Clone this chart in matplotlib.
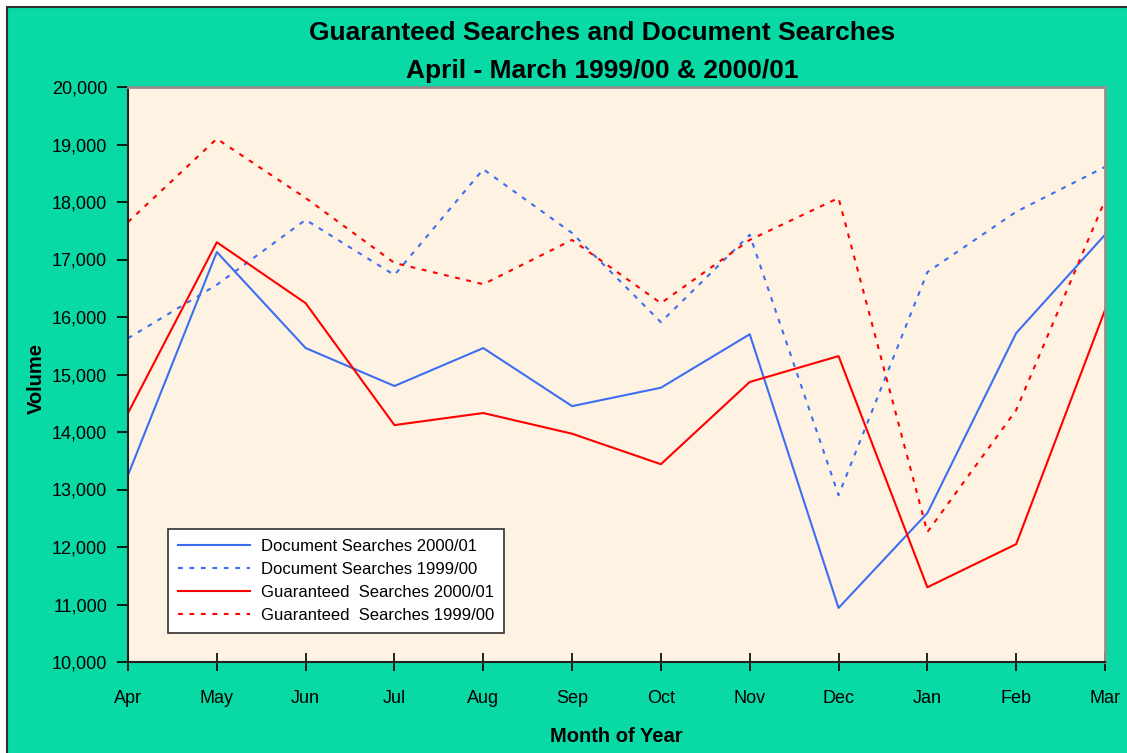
import matplotlib
matplotlib.use("Agg")
import matplotlib.pyplot as plt
from matplotlib.patches import Rectangle
from matplotlib.ticker import FuncFormatter

months = ['Apr', 'May', 'Jun', 'Jul', 'Aug', 'Sep', 'Oct', 'Nov', 'Dec', 'Jan', 'Feb', 'Mar']
doc_2000 = [13250, 17130, 15460, 14800, 15460, 14450, 14770, 15700, 10940, 12590, 15720, 17430]
doc_1999 = [15630, 16560, 17690, 16730, 18570, 17460, 15910, 17430, 12900, 16780, 17830, 18610]
guar_2000 = [14330, 17300, 16240, 14120, 14330, 13970, 13440, 14870, 15320, 11300, 12050, 16120]
guar_1999 = [17650, 19100, 18070, 16940, 16570, 17340, 16240, 17340, 18070, 12260, 14380, 18030]
labels = ['Document Searches 2000/01', 'Document Searches 1999/00',
          'Guaranteed  Searches 2000/01', 'Guaranteed  Searches 1999/00']
yticks = list(range(10000, 20001, 1000))

FAM = ['Liberation Sans', 'DejaVu Sans']

TEAL = '#08D9A5'
CREAM = '#FEF3E2'
BLUE = '#3D6EF2'
RED = '#FF0000'

fig = plt.figure(figsize=(11.27, 7.53), dpi=100, facecolor='white')
fig.patches.append(Rectangle((7 / 1127, -0.1), 1.2, 1.1 - 7 / 753,
                             transform=fig.transFigure, facecolor=TEAL,
                             edgecolor='#303030', lw=1.5, zorder=-10))

ax = fig.add_axes([128 / 1127, 1 - 662 / 753, (1105 - 128) / 1127, (662 - 87) / 753])
ax.set_facecolor(CREAM)

x = list(range(len(months)))
lw = 1.5
ax.plot(x, doc_2000, color=BLUE, lw=lw, label=labels[0])
ax.plot(x, doc_1999, color=BLUE, lw=lw, ls=(0, (2.3, 3.2)), label=labels[1])
ax.plot(x, guar_2000, color=RED, lw=lw, label=labels[2])
ax.plot(x, guar_1999, color=RED, lw=lw, ls=(0, (2.3, 3.2)), label=labels[3])

ax.set_xlim(0, len(months) - 1)
ax.set_ylim(10000, 20000)
ax.set_xticks(x)
ax.set_xticklabels(months, family=FAM, fontsize=13)
ax.set_yticks(yticks)
ax.yaxis.set_major_formatter(FuncFormatter(lambda v, p: f'{int(v):,}'))
for lab in ax.get_yticklabels():
    lab.set_family(FAM)
    lab.set_fontsize(13)
ax.tick_params(axis='y', direction='out', length=8, width=1.2, pad=7, colors='black')
ax.tick_params(axis='x', direction='inout', length=13, width=1.2, pad=14, colors='black')

for s in ['left', 'bottom']:
    ax.spines[s].set_color('#202020')
    ax.spines[s].set_linewidth(1.5)
for s in ['top', 'right']:
    ax.spines[s].set_color('#909090')
    ax.spines[s].set_linewidth(2)

leg = ax.legend(loc='upper left', bbox_to_anchor=(0.041, 0.231),
                prop={'family': FAM, 'size': 12.0}, frameon=True, fancybox=False,
                edgecolor='#303030', facecolor='white', framealpha=1,
                handlelength=4.3, handletextpad=0.65, borderpad=0.6,
                labelspacing=0.48, borderaxespad=0)
leg.get_frame().set_linewidth(1.2)

fig.text(602 / 1127, 1 - 33 / 753, 'Guaranteed Searches and Document Searches',
         ha='center', va='center', fontsize=19, fontweight='bold', family=FAM)
fig.text(602 / 1127, 1 - 71 / 753, 'April - March 1999/00 & 2000/01',
         ha='center', va='center', fontsize=19, fontweight='bold', family=FAM)
fig.text(616 / 1127, 1 - 736 / 753, 'Month of Year', ha='center', va='center',
         fontsize=14.5, fontweight='bold', family=FAM)
fig.text(36 / 1127, 1 - 378 / 753, 'Volume', ha='center', va='center', rotation=90,
         fontsize=14.5, fontweight='bold', family=FAM)

fig.savefig('out.png', dpi=100, facecolor='white')
